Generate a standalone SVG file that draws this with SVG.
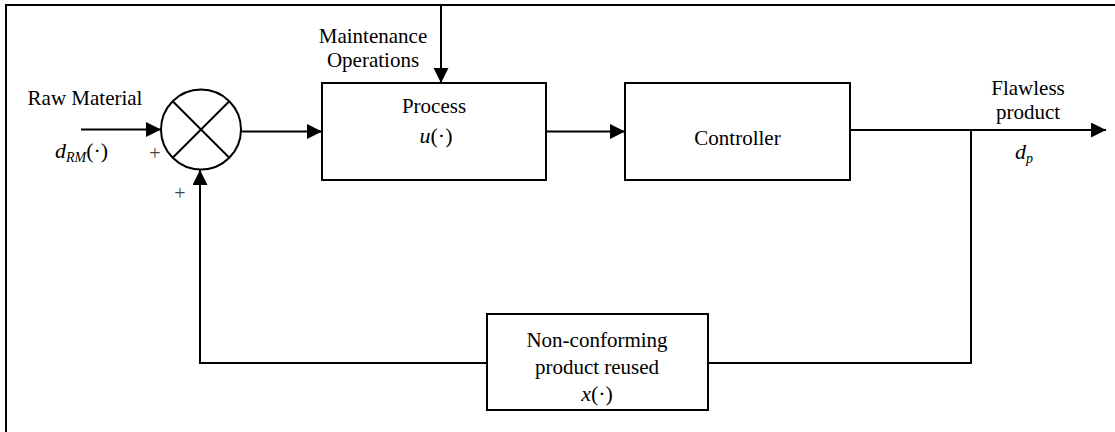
<svg xmlns="http://www.w3.org/2000/svg" width="1115" height="432" viewBox="0 0 1115 432">
<defs>
<marker id="ah" markerUnits="userSpaceOnUse" markerWidth="16" markerHeight="16" refX="15" refY="7.5" orient="auto">
<path d="M0,0 L15,7.5 L0,15 Z" fill="#000"/>
</marker>
<style>
.ln{stroke:#000;stroke-width:2;fill:none}
.bx{stroke:#000;stroke-width:2;fill:#fff}
text{font-family:"Liberation Serif","Times New Roman",serif}
.t{font-size:21px;fill:#000}
.m{font-size:22px;fill:#000}
.i{font-style:italic}
.pl{font-size:20px;fill:#444}
</style>
</defs>
<rect width="1115" height="432" fill="#fff"/>
<g id="frame">
<path class="ln" d="M6,432 V5 H1115"/>
</g>
<g id="connectors">
<path class="ln" d="M81,129.5 H161" marker-end="url(#ah)"/>
<path class="ln" d="M241,131.5 H322" marker-end="url(#ah)"/>
<path class="ln" d="M546,131.5 H625" marker-end="url(#ah)"/>
<path class="ln" d="M850,130 H1106" marker-end="url(#ah)"/>
<path class="ln" d="M441,5 V83" marker-end="url(#ah)"/>
<path class="ln" d="M971,130 V363 H708"/>
<path class="ln" d="M487,363 H200 V170" marker-end="url(#ah)"/>
</g>
<g id="sum">
<circle class="bx" cx="201" cy="129.5" r="40"/>
<path class="ln" d="M172.7,101.2 L229.3,157.8 M229.3,101.2 L172.7,157.8"/>
<text class="pl" x="155" y="160" text-anchor="middle" font-family="Liberation Serif, serif">+</text>
<text class="pl" x="180" y="200" text-anchor="middle" font-family="Liberation Serif, serif">+</text>
</g>
<g id="raw-material">
<text class="t" x="85" y="105" text-anchor="middle">Raw Material</text>
<text class="m" x="55" y="158"><tspan class="i">d</tspan><tspan class="i" font-size="14" dy="4">RM</tspan><tspan dy="-4">(·)</tspan></text>
</g>
<g id="maintenance">
<text class="t" x="373" y="43" text-anchor="middle">Maintenance</text>
<text class="t" x="373" y="67" text-anchor="middle">Operations</text>
</g>
<g id="process">
<rect class="bx" x="322" y="83" width="224" height="97"/>
<text class="t" x="434" y="113" text-anchor="middle">Process</text>
<text class="m" x="436" y="143" text-anchor="middle"><tspan class="i">u</tspan>(·)</text>
</g>
<g id="controller">
<rect class="bx" x="625" y="83" width="225" height="97"/>
<text class="t" x="737.5" y="145" text-anchor="middle">Controller</text>
</g>
<g id="flawless">
<text class="t" x="1028" y="95" text-anchor="middle">Flawless</text>
<text class="t" x="1028" y="119" text-anchor="middle">product</text>
<text class="m" x="1015" y="159"><tspan class="i">d</tspan><tspan class="i" font-size="14" dy="4">p</tspan></text>
</g>
<g id="nonconforming">
<rect class="bx" x="487" y="314" width="221" height="96"/>
<text class="t" x="597" y="347" text-anchor="middle">Non-conforming</text>
<text class="t" x="597" y="374" text-anchor="middle">product reused</text>
<text class="m" x="597" y="401" text-anchor="middle"><tspan class="i">x</tspan>(·)</text>
</g>
</svg>
